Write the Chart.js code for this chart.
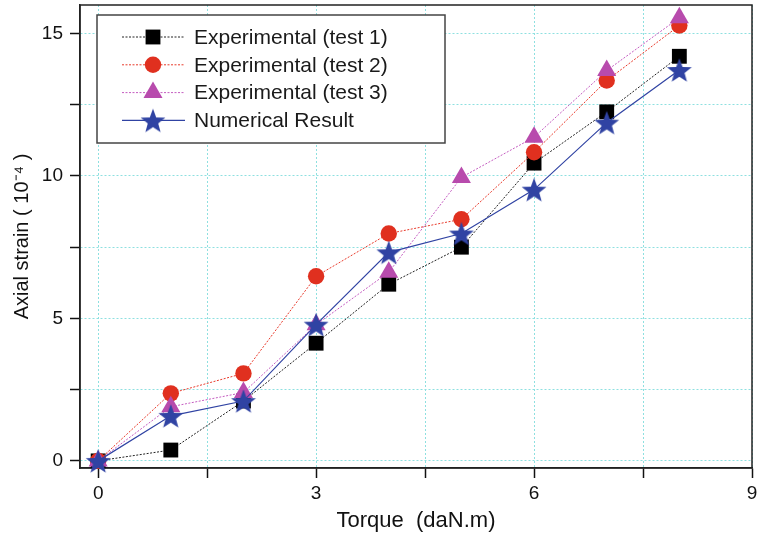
<!DOCTYPE html>
<html>
<head>
<meta charset="utf-8">
<script src="https://cdn.jsdelivr.net/npm/chart.js@4/dist/chart.umd.min.js"></script>
<style>
  html,body{margin:0;padding:0;background:#fff;}
  #wrap{width:761px;height:538px;}
</style>
</head>
<body>
<div id="wrap"><canvas id="chart" width="761" height="538"></canvas></div>
<script>
// torque values (daN.m)
const torque=[0,1,2,3,4,5,6,7,8];
// axial strain (10^-4)
const test1=[0,0.38,2.1,4.13,6.2,7.5,10.45,12.25,14.2];
const test2=[0,2.37,3.07,6.48,7.98,8.48,10.83,13.35,15.28];
const test3=[0,1.9,2.4,4.78,6.62,9.95,11.36,13.7,15.55];
const numerical=[0,1.58,2.1,4.78,7.32,7.98,9.52,11.87,13.72];
const seriesLabels=['Experimental (test 1)','Experimental (test 2)','Experimental (test 3)','Numerical Result'];
const xTickLabels=[0,3,6,9];
const yTickLabels=[0,5,10,15];

const FONT='"Liberation Sans", Arial, Helvetica, sans-serif';

function makeStar(R,color){
  const c=document.createElement('canvas');
  const s=Math.ceil(R*2+2);
  c.width=s;c.height=s;
  const g=c.getContext('2d');
  const cx=s/2,cy=s/2+R*0.1,r=R*0.42;
  g.beginPath();
  for(let i=0;i<10;i++){
    const rad=i%2===0?R:r;
    const a=-Math.PI/2+i*Math.PI/5;
    const x=cx+Math.cos(a)*rad,y=cy+Math.sin(a)*rad;
    if(i===0)g.moveTo(x,y);else g.lineTo(x,y);
  }
  g.closePath();
  g.fillStyle=color;g.fill();
  return c;
}

const starImg=makeStar(13,'#3043a3');

function pts(ys){return ys.map((y,i)=>({x:torque[i],y:y}));}

const datasets=[
  {label:seriesLabels[0],data:pts(test1),borderColor:'#222',backgroundColor:'#000',borderWidth:1,borderDash:[2,1.5],
   pointStyle:'rect',pointRadius:10.5,pointBackgroundColor:'#000',order:3},
  {label:seriesLabels[1],data:pts(test2),borderColor:'#e8392a',backgroundColor:'#e0301f',borderWidth:1,borderDash:[2,1.5],
   pointStyle:'circle',pointRadius:8.2,pointBackgroundColor:'#e0301f',order:2},
  {label:seriesLabels[2],data:pts(test3),borderColor:'#c45cc0',backgroundColor:'#b84bad',borderWidth:1,borderDash:[2,1.5],
   pointStyle:'triangle',pointRadius:11,pointBackgroundColor:'#b84bad',order:1},
  {label:seriesLabels[3],data:pts(numerical),borderColor:'#3043a3',backgroundColor:'#3043a3',borderWidth:1.2,
   pointStyle:starImg,pointRadius:13,pointBackgroundColor:'#3043a3',order:0}
];
datasets.forEach(d=>{d.pointBorderWidth=0;d.pointHoverRadius=d.pointRadius;d.clip=false;d.tension=0;});

function drawMarker(ctx,ds,x,y){
  const r=ds.pointRadius;
  ctx.save();
  ctx.fillStyle=ds.pointBackgroundColor;
  ctx.beginPath();
  if(ds.pointStyle==='rect'){
    const s=Math.SQRT1_2*r;ctx.rect(x-s,y-s,2*s,2*s);
  }else if(ds.pointStyle==='circle'){
    ctx.arc(x,y,r,0,Math.PI*2);
  }else if(ds.pointStyle==='triangle'){
    ctx.moveTo(x,y-r);
    ctx.lineTo(x+Math.sin(2*Math.PI/3)*r,y+r/2);
    ctx.lineTo(x-Math.sin(2*Math.PI/3)*r,y+r/2);
    ctx.closePath();
  }else{
    const img=ds.pointStyle;
    ctx.drawImage(img,x-img.width/2,y-img.height/2);
    ctx.restore();return;
  }
  ctx.fill();
  ctx.restore();
}

const framePlugin={
  id:'frame',
  beforeDatasetsDraw(chart){
    const {ctx,chartArea:a}=chart;
    ctx.save();
    ctx.strokeStyle='#222';ctx.lineWidth=1.5;
    ctx.strokeRect(a.left,a.top,a.right-a.left,a.bottom-a.top);
    ctx.restore();
  }
};

const legendPlugin={
  id:'boxLegend',
  afterDatasetsDraw(chart){
    const {ctx,chartArea:a}=chart;
    const bx=a.left+17,by=a.top+10,bw=348,bh=128;
    ctx.save();
    ctx.fillStyle='#fff';ctx.fillRect(bx,by,bw,bh);
    ctx.strokeStyle='#444';ctx.lineWidth=1.5;ctx.strokeRect(bx,by,bw,bh);
    chart.data.datasets.forEach((ds,i)=>{
      const y=by+22+i*27.8;
      ctx.save();
      ctx.strokeStyle=ds.borderColor;ctx.lineWidth=ds.borderWidth;
      ctx.setLineDash(ds.borderDash||[]);
      ctx.beginPath();ctx.moveTo(bx+25,y);ctx.lineTo(bx+88,y);ctx.stroke();
      ctx.restore();
      drawMarker(ctx,ds,bx+56,y);
      ctx.fillStyle='#1a1a1a';ctx.font='21px '+FONT;ctx.textBaseline='middle';ctx.textAlign='left';
      ctx.fillText(ds.label,bx+97,y+1);
    });
    ctx.restore();
  }
};

new Chart(document.getElementById('chart'),{
  type:'line',
  data:{datasets:datasets},
  options:{
    responsive:false,animation:false,
    layout:{autoPadding:false,padding:{top:5,right:9,left:0,bottom:0}},
    plugins:{legend:{display:false},tooltip:{enabled:false}},
    elements:{line:{fill:false}},
    scales:{
      x:{type:'linear',position:'bottom',min:-0.25,max:9,
        afterFit(s){s.height=70;s.paddingLeft=0;s.paddingRight=0;},
        ticks:{stepSize:1.5,includeBounds:false,autoSkip:false,maxRotation:0,padding:4,color:'#111',
          font:{family:FONT,size:19},
          callback:v=>xTickLabels.includes(v)?String(v):''},
        grid:{color:'#8ee0e0',lineWidth:1,tickLength:10,tickColor:'#111',tickWidth:1.5},
        border:{color:'#222',width:1.5,dash:[2,2]},
        title:{display:true,text:'Torque  (daN.m)',color:'#111',font:{family:FONT,size:22},padding:{top:0,bottom:4}}
      },
      y:{type:'linear',position:'left',min:-0.25,max:16,
        afterFit(s){s.width=80;s.paddingTop=0;s.paddingBottom=0;},
        ticks:{stepSize:2.5,includeBounds:false,autoSkip:false,padding:7,color:'#111',
          font:{family:FONT,size:19},
          callback:v=>yTickLabels.includes(v)?String(v):''},
        grid:{color:'#8ee0e0',lineWidth:1,tickLength:10,tickColor:'#111',tickWidth:1.5},
        border:{color:'#222',width:1.5,dash:[2,2]},
        title:{display:true,text:'Axial strain ( 10\u207B\u2074 )',color:'#111',font:{family:FONT,size:20},padding:{top:10,bottom:0}}
      }
    }
  },
  plugins:[framePlugin,legendPlugin]
});
</script>
</body>
</html>
